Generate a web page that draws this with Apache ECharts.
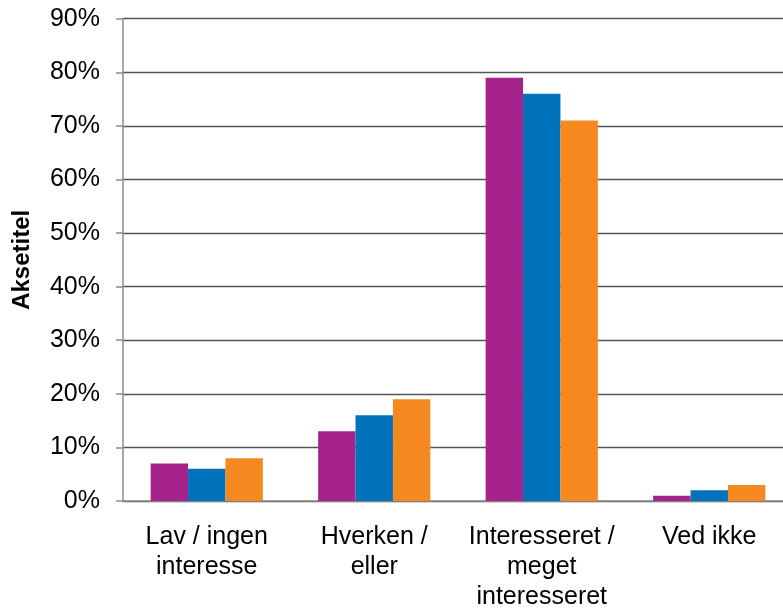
<!DOCTYPE html>
<html><head><meta charset="utf-8">
<script src="https://cdn.jsdelivr.net/npm/echarts@6/dist/echarts.min.js"></script>
<style>html,body{margin:0;padding:0;background:#fff}#c{width:783px;height:608px}</style>
</head><body><div id="c"></div>
<script>
const categories = ['Lav / ingen\ninteresse', 'Hverken /\neller', 'Interesseret /\nmeget\ninteresseret', 'Ved ikke'];
const seriesA = [7, 13, 79, 1];
const seriesB = [6, 16, 76, 2];
const seriesC = [8, 19, 71, 3];
const colors = ['#A6228C', '#0071BB', '#F5891F'];
const font = 'Liberation Sans, Arial, sans-serif';
const chart = echarts.init(document.getElementById('c'));
function s(name, data, color) {
  return { name, type: 'bar', data, barGap: '0%', barCategoryGap: '33%',
    itemStyle: { color }, animation: false };
}
chart.setOption({
  animation: false,
  grid: { left: 123, top: 18.7, width: 670, bottom: 107, containLabel: false, outerBoundsMode: 'none' },
  xAxis: { type: 'category', data: categories,
    axisLine: { lineStyle: { color: '#8c8c8c', width: 1.5 } },
    axisTick: { show: false },
    axisLabel: { interval: 0, hideOverlap: false, color: '#000', fontSize: 25, fontFamily: font, lineHeight: 30, margin: 21 } },
  yAxis: { type: 'value', min: 0, max: 90, interval: 10,
    name: 'Aksetitel', nameLocation: 'middle', nameGap: 89, nameRotate: 90,
    nameTextStyle: { color: '#000', fontSize: 24, fontWeight: 'bold', fontFamily: font },
    axisLine: { show: true, lineStyle: { color: '#8c8c8c', width: 1.5 } },
    axisTick: { show: true, length: 7, lineStyle: { color: '#8c8c8c', width: 1.5 } },
    splitLine: { lineStyle: { color: '#555', width: 1.3 } },
    axisLabel: { color: '#000', fontSize: 25, fontFamily: font, margin: 23, formatter: '{value}%' } },
  series: [s('A', seriesA, colors[0]), s('B', seriesB, colors[1]), s('C', seriesC, colors[2])]
});
</script></body></html>
